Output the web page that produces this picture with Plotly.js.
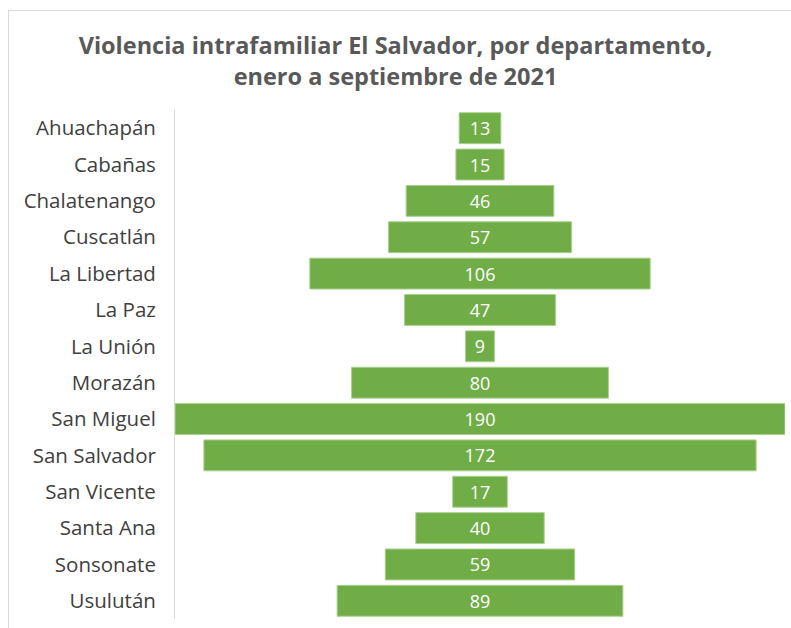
<!DOCTYPE html>
<html>
<head>
<meta charset="utf-8">
<script src="https://cdn.plot.ly/plotly-3.0.1.min.js"></script>
<style>
html,body{margin:0;padding:0;background:#fff;}
#frame{position:absolute;left:8px;top:10px;width:800px;height:640px;border:1px solid #d9d9d9;box-sizing:border-box;}
#chart{position:absolute;left:0;top:0;width:791px;height:628px;}
</style>
</head>
<body>
<div id="frame"></div>
<div id="chart"></div>
<script>
const departamentos = ["Ahuachapán","Cabañas","Chalatenango","Cuscatlán","La Libertad","La Paz","La Unión","Morazán","San Miguel","San Salvador","San Vicente","Santa Ana","Sonsonate","Usulután"];
const casos = [13,15,46,57,106,47,9,80,190,172,17,40,59,89];
const titulo = "Violencia intrafamiliar El Salvador, por departamento,<br>enero a septiembre de 2021";

const trace = {
  type: "funnel",
  y: departamentos,
  x: casos,
  textinfo: "value",
  textposition: "inside",
  insidetextfont: {color: "#ffffff", size: 18, family: "Open Sans, sans-serif"},
  marker: {color: "#70AD47", line: {color: "#a9d18e", width: 1}},
  connector: {visible: false},
  hoverinfo: "y+x"
};

const layout = {
  width: 791, height: 628,
  paper_bgcolor: "rgba(0,0,0,0)",
  plot_bgcolor: "rgba(0,0,0,0)",
  margin: {l: 175, r: 6, t: 110, b: 9},
  funnelgap: 0.15,
  showlegend: false,
  title: {
    text: titulo,
    font: {family: "Open Sans, sans-serif", size: 23.5, color: "#595959", weight: "bold"},
    x: 0.5, xref: "container", xanchor: "center",
    y: 1 - 54/628, yref: "container", yanchor: "top"
  },
  xaxis: {range: [-95, 95], visible: false, fixedrange: true},
  yaxis: {
    showline: true, linecolor: "#d9d9d9", linewidth: 1,
    ticks: "", ticklabelstandoff: 14,
    tickfont: {family: "Open Sans, sans-serif", size: 20.5, color: "#404040"},
    automargin: false
  },
  font: {family: "Open Sans, sans-serif"}
};

Plotly.newPlot("chart", [trace], layout, {displayModeBar: false, staticPlot: true});
</script>
</body>
</html>
